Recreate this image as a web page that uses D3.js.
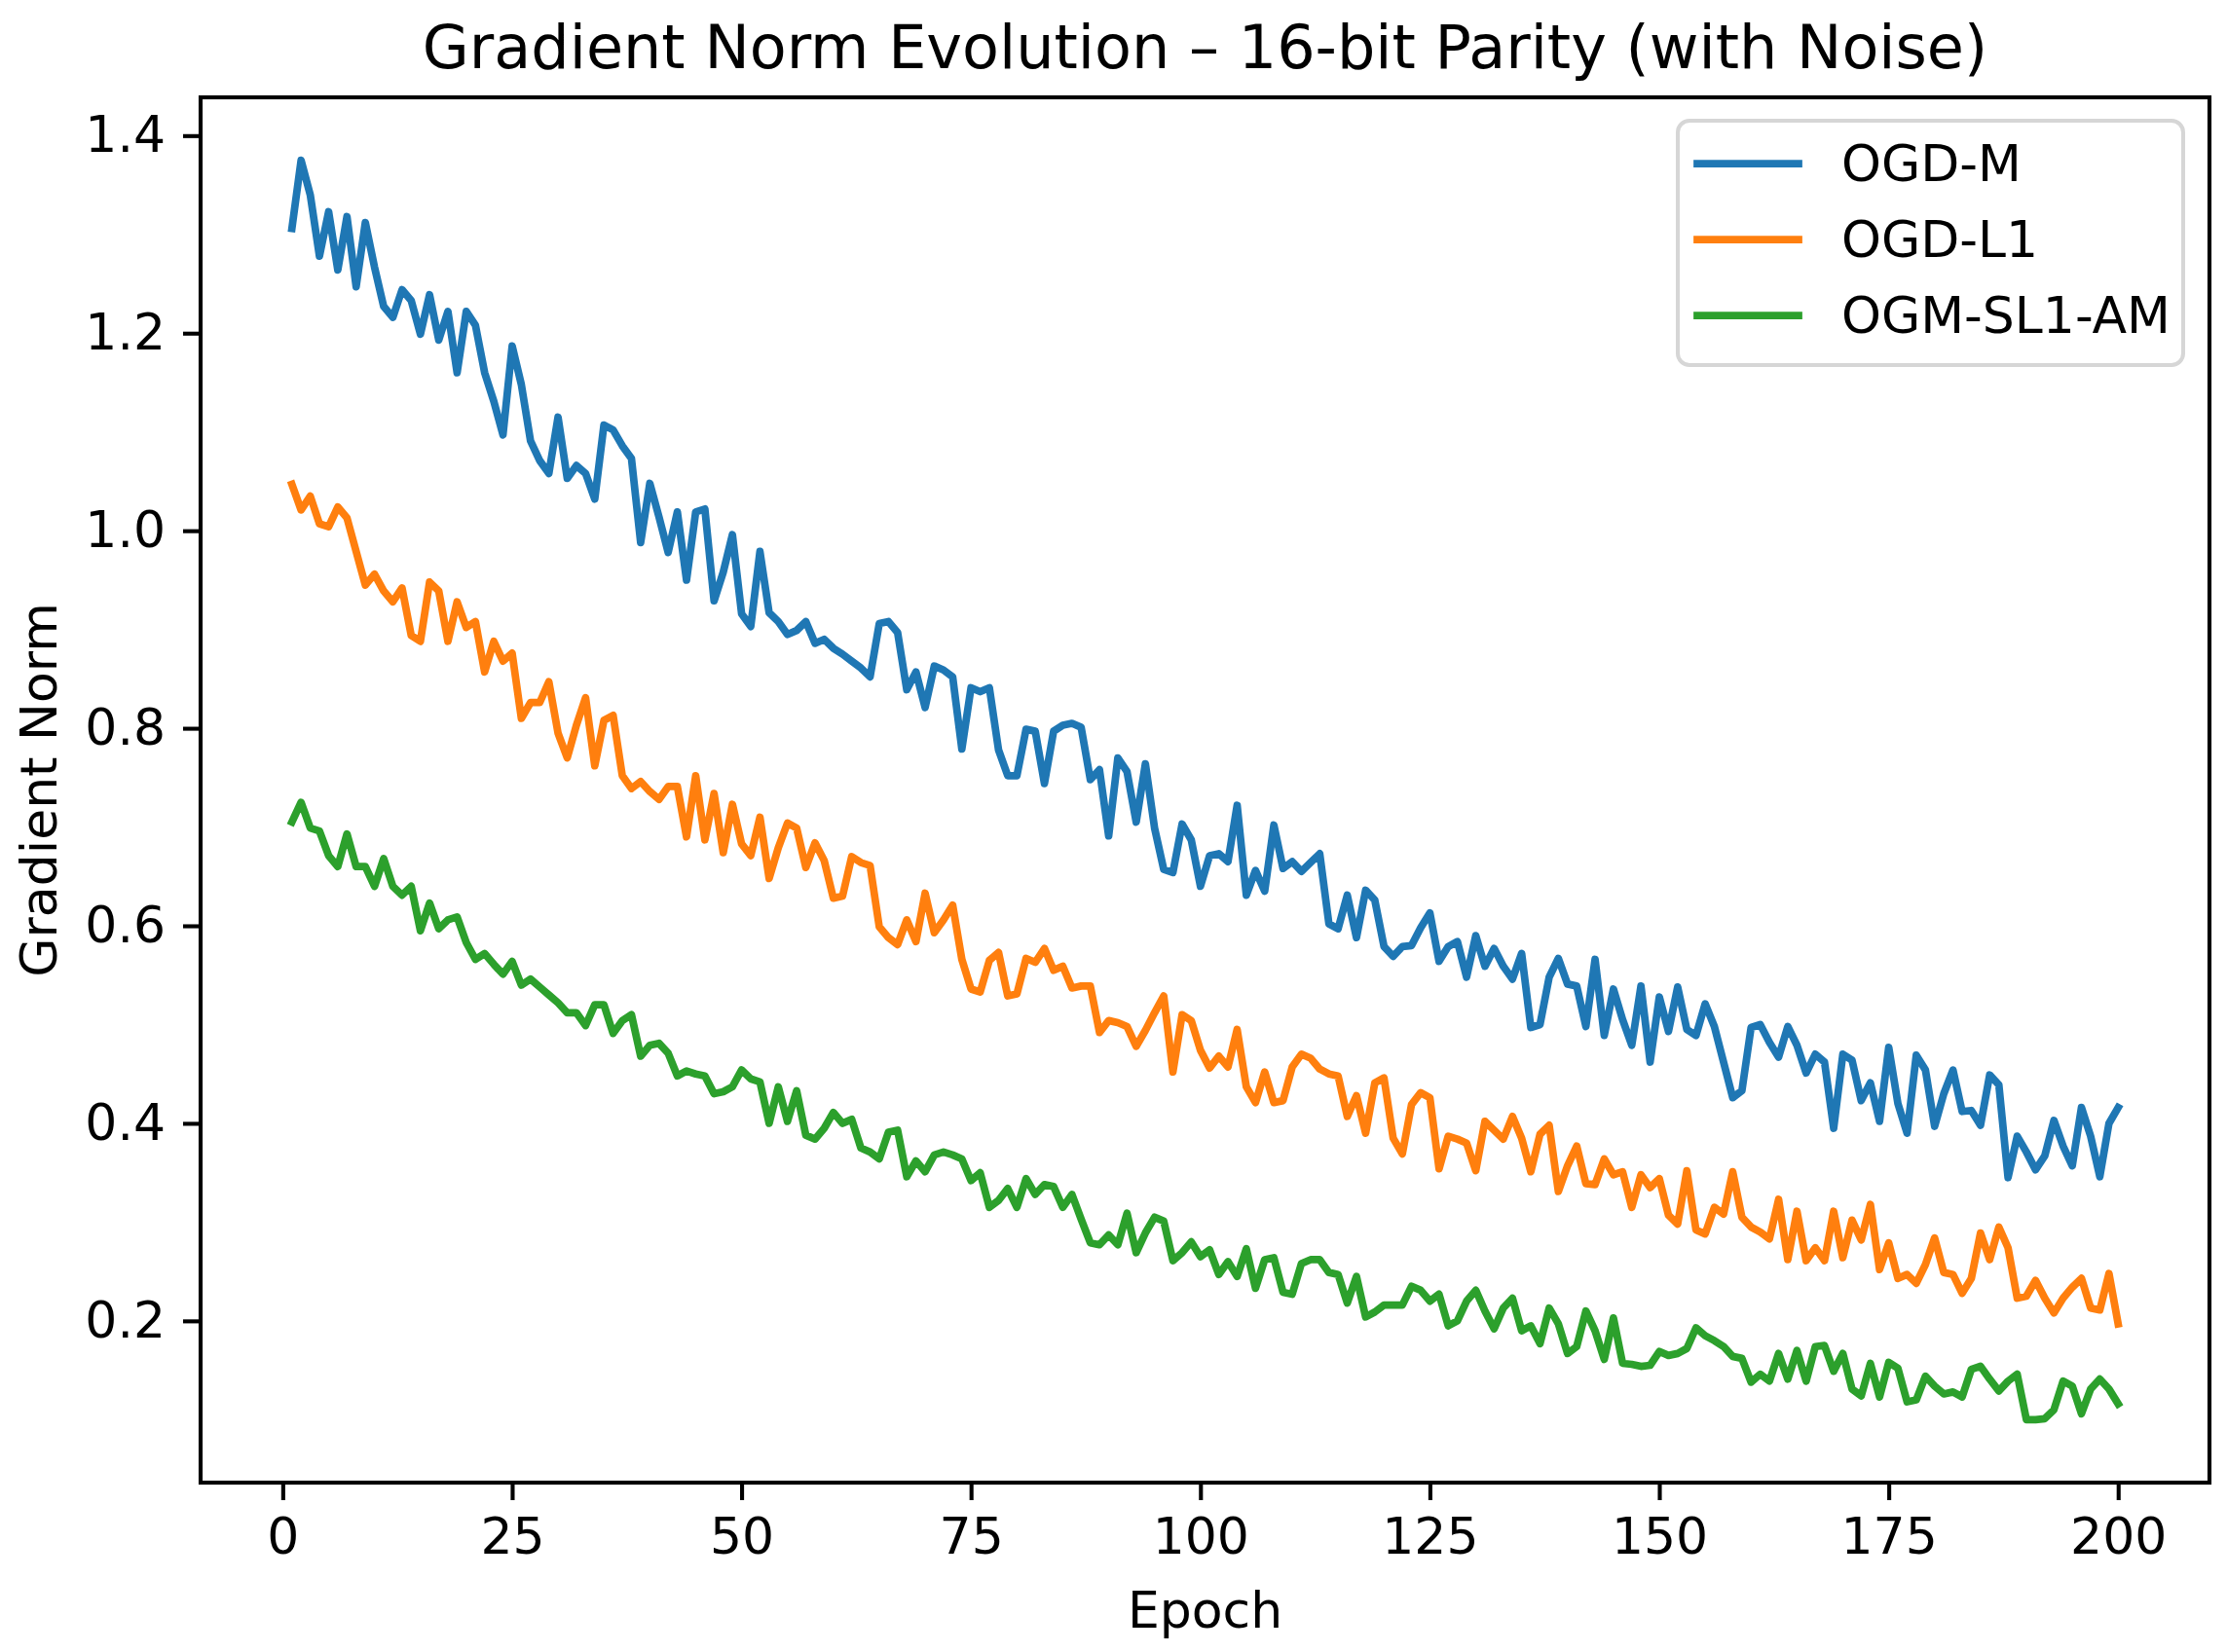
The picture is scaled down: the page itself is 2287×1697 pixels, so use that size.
<!DOCTYPE html>
<html>
<head>
<meta charset="utf-8">
<script src="https://cdn.jsdelivr.net/npm/d3@7"></script>
<style>
	body { margin: 0; background: #fff; }
	text { font-family: "DejaVu Sans", sans-serif; fill: #000; }
</style>
</head>
<body>
<div id="chart"></div>
<script>
// Data
const epochs = d3.range(1, 201);

const ogdM = [
	1.306, 1.375, 1.340, 1.278, 1.323, 1.264, 1.318, 1.247, 1.312, 1.267,
	1.227, 1.216, 1.244, 1.233, 1.199, 1.239, 1.193, 1.222, 1.160, 1.222,
	1.208, 1.160, 1.131, 1.097, 1.187, 1.148, 1.091, 1.071, 1.058, 1.115,
	1.053, 1.066, 1.058, 1.032, 1.107, 1.102, 1.086, 1.073, 0.988, 1.048,
	1.014, 0.978, 1.019, 0.950, 1.019, 1.022, 0.929, 0.958, 0.996, 0.916,
	0.903, 0.979, 0.917, 0.908, 0.895, 0.899, 0.908, 0.886, 0.890, 0.881,
	0.875, 0.868, 0.861, 0.852, 0.906, 0.908, 0.897, 0.839, 0.857, 0.821,
	0.863, 0.859, 0.852, 0.779, 0.841, 0.837, 0.841, 0.778, 0.752, 0.752,
	0.799, 0.797, 0.744, 0.797, 0.803, 0.805, 0.801, 0.748, 0.758, 0.691,
	0.770, 0.756, 0.705, 0.764, 0.699, 0.657, 0.654, 0.703, 0.687, 0.640,
	0.671, 0.673, 0.665, 0.722, 0.631, 0.656, 0.635, 0.702, 0.658, 0.665,
	0.655, 0.664, 0.673, 0.602, 0.597, 0.631, 0.588, 0.636, 0.626, 0.579,
	0.569, 0.579, 0.580, 0.598, 0.613, 0.564, 0.579, 0.584, 0.548, 0.590,
	0.559, 0.577, 0.559, 0.546, 0.572, 0.497, 0.500, 0.548, 0.567, 0.541,
	0.539, 0.498, 0.566, 0.489, 0.536, 0.505, 0.479, 0.539, 0.462, 0.528,
	0.493, 0.538, 0.495, 0.489, 0.521, 0.498, 0.462, 0.426, 0.433, 0.497,
	0.500, 0.482, 0.467, 0.498, 0.479, 0.451, 0.470, 0.462, 0.395, 0.470,
	0.464, 0.423, 0.441, 0.402, 0.477, 0.420, 0.390, 0.469, 0.454, 0.397,
	0.430, 0.454, 0.412, 0.413, 0.398, 0.449, 0.439, 0.345, 0.387, 0.371,
	0.353, 0.367, 0.403, 0.377, 0.357, 0.416, 0.387, 0.346, 0.400, 0.416,
];

const ogdL1 = [
	1.047, 1.021, 1.035, 1.007, 1.004, 1.024, 1.013, 0.979, 0.945, 0.956,
	0.939, 0.928, 0.942, 0.894, 0.888, 0.948, 0.939, 0.888, 0.928, 0.902,
	0.908, 0.857, 0.888, 0.868, 0.876, 0.810, 0.826, 0.826, 0.847, 0.795,
	0.770, 0.803, 0.831, 0.762, 0.808, 0.813, 0.752, 0.739, 0.746, 0.736,
	0.728, 0.741, 0.741, 0.690, 0.752, 0.687, 0.734, 0.674, 0.723, 0.683,
	0.671, 0.710, 0.648, 0.679, 0.704, 0.699, 0.659, 0.684, 0.666, 0.628,
	0.630, 0.670, 0.664, 0.661, 0.599, 0.588, 0.581, 0.606, 0.584, 0.633,
	0.593, 0.606, 0.621, 0.566, 0.536, 0.533, 0.565, 0.573, 0.529, 0.531,
	0.567, 0.563, 0.577, 0.555, 0.559, 0.537, 0.539, 0.539, 0.492, 0.504,
	0.502, 0.498, 0.478, 0.494, 0.512, 0.529, 0.452, 0.510, 0.504, 0.474,
	0.456, 0.468, 0.457, 0.495, 0.437, 0.421, 0.452, 0.421, 0.423, 0.457,
	0.470, 0.466, 0.455, 0.450, 0.448, 0.407, 0.428, 0.390, 0.441, 0.446,
	0.385, 0.369, 0.419, 0.431, 0.426, 0.354, 0.387, 0.384, 0.380, 0.352,
	0.402, 0.393, 0.384, 0.407, 0.385, 0.351, 0.389, 0.398, 0.331, 0.357,
	0.377, 0.339, 0.338, 0.364, 0.348, 0.351, 0.315, 0.348, 0.335, 0.344,
	0.307, 0.298, 0.352, 0.292, 0.288, 0.315, 0.308, 0.351, 0.305, 0.295,
	0.290, 0.283, 0.323, 0.262, 0.311, 0.261, 0.274, 0.261, 0.311, 0.264,
	0.302, 0.282, 0.318, 0.252, 0.279, 0.243, 0.247, 0.238, 0.257, 0.284,
	0.249, 0.247, 0.228, 0.243, 0.289, 0.262, 0.295, 0.274, 0.223, 0.225,
	0.241, 0.223, 0.208, 0.223, 0.234, 0.243, 0.213, 0.211, 0.248, 0.197,
];

const ogmSl1Am = [
	0.705, 0.725, 0.699, 0.696, 0.671, 0.660, 0.693, 0.660, 0.660, 0.640,
	0.668, 0.640, 0.631, 0.640, 0.595, 0.623, 0.597, 0.606, 0.609, 0.583,
	0.566, 0.572, 0.561, 0.551, 0.564, 0.540, 0.546, 0.538, 0.530, 0.522,
	0.512, 0.512, 0.499, 0.520, 0.520, 0.491, 0.504, 0.510, 0.468, 0.479,
	0.481, 0.471, 0.448, 0.453, 0.450, 0.448, 0.430, 0.432, 0.437, 0.454,
	0.445, 0.442, 0.400, 0.437, 0.402, 0.433, 0.388, 0.384, 0.395, 0.411,
	0.400, 0.404, 0.375, 0.371, 0.364, 0.391, 0.393, 0.346, 0.362, 0.351,
	0.368, 0.371, 0.368, 0.364, 0.342, 0.350, 0.315, 0.322, 0.334, 0.315,
	0.344, 0.328, 0.338, 0.336, 0.315, 0.328, 0.303, 0.279, 0.277, 0.287,
	0.277, 0.309, 0.269, 0.289, 0.305, 0.301, 0.261, 0.269, 0.280, 0.265,
	0.272, 0.247, 0.260, 0.245, 0.273, 0.233, 0.262, 0.264, 0.229, 0.227,
	0.258, 0.262, 0.262, 0.249, 0.247, 0.218, 0.245, 0.204, 0.209, 0.216,
	0.216, 0.216, 0.235, 0.231, 0.220, 0.227, 0.195, 0.200, 0.220, 0.231,
	0.210, 0.192, 0.213, 0.223, 0.190, 0.195, 0.177, 0.213, 0.197, 0.167,
	0.174, 0.210, 0.190, 0.161, 0.203, 0.157, 0.156, 0.154, 0.155, 0.169,
	0.165, 0.167, 0.172, 0.193, 0.185, 0.180, 0.174, 0.164, 0.162, 0.138,
	0.146, 0.139, 0.167, 0.141, 0.170, 0.139, 0.174, 0.175, 0.149, 0.167,
	0.131, 0.124, 0.157, 0.123, 0.158, 0.152, 0.118, 0.120, 0.144, 0.134,
	0.126, 0.128, 0.123, 0.151, 0.154, 0.141, 0.129, 0.139, 0.146, 0.100,
	0.100, 0.101, 0.110, 0.139, 0.134, 0.106, 0.131, 0.141, 0.131, 0.116,
];

const seriesNames = ["OGD-M", "OGD-L1", "OGM-SL1-AM"];
const seriesColors = ["#1f77b4", "#ff7f0e", "#2ca02c"];
const xTicks = [0, 25, 50, 75, 100, 125, 150, 175, 200];
const yTicks = [0.2, 0.4, 0.6, 0.8, 1.0, 1.2, 1.4];

const series = [ogdM, ogdL1, ogmSl1Am].map((values, i) => ({
	name: seriesNames[i],
	color: seriesColors[i],
	points: values.map((v, j) => ({ epoch: epochs[j], value: v })),
}));

// Figure geometry (matplotlib-like, 10pt ~ 52px)
const W = 2287;
const H = 1697;
const margin = { top: 100, right: 18, bottom: 174, left: 206 };
const width = W - margin.left - margin.right;
const height = H - margin.top - margin.bottom;

const svg = d3
	.select("#chart")
	.append("svg")
	.attr("width", W)
	.attr("height", H)
	.attr("viewBox", `0 0 ${W} ${H}`);

const g = svg
	.append("g")
	.attr("transform", `translate(${margin.left},${margin.top})`);

// Scales with 5% padding like matplotlib autoscale
const xExt = d3.extent(epochs);
const xPad = (xExt[1] - xExt[0]) * 0.05;
const xScale = d3
	.scaleLinear()
	.domain([xExt[0] - xPad, xExt[1] + xPad])
	.range([0, width]);

const allValues = ogdM.concat(ogdL1, ogmSl1Am);
const yExt = d3.extent(allValues);
const yPad = (yExt[1] - yExt[0]) * 0.05;
const yScale = d3
	.scaleLinear()
	.domain([yExt[0] - yPad, yExt[1] + yPad])
	.range([height, 0]);

// Lines
const line = d3
	.line()
	.x((d) => xScale(d.epoch))
	.y((d) => yScale(d.value));

g.selectAll(".series")
	.data(series)
	.enter()
	.append("path")
	.attr("class", "series")
	.attr("d", (d) => line(d.points))
	.attr("fill", "none")
	.attr("stroke", (d) => d.color)
	.attr("stroke-width", 7.75)
	.attr("stroke-linejoin", "round")
	.attr("stroke-linecap", "square");

// Axes
const xAxis = g
	.append("g")
	.attr("transform", `translate(0,${height})`)
	.call(
		d3.axisBottom(xScale).tickValues(xTicks).tickSize(18).tickPadding(18)
	);

const yAxis = g
	.append("g")
	.call(
		d3
			.axisLeft(yScale)
			.tickValues(yTicks)
			.tickFormat(d3.format(".1f"))
			.tickSize(18)
			.tickPadding(18)
	);

[xAxis, yAxis].forEach((ax) => {
	ax.select(".domain").remove();
	ax.selectAll(".tick line").attr("stroke", "#000").attr("stroke-width", 4.1);
	ax.selectAll(".tick text")
		.attr("fill", "#000")
		.style("font-family", "DejaVu Sans")
		.style("font-size", "52px");
});

// Frame
g.append("rect")
	.attr("width", width)
	.attr("height", height)
	.attr("fill", "none")
	.attr("stroke", "#000")
	.attr("stroke-width", 4.1);

// Title and labels
svg.append("text")
	.attr("x", margin.left + width / 2)
	.attr("y", 70)
	.attr("text-anchor", "middle")
	.style("font-size", "62px")
	.text("Gradient Norm Evolution \u2013 16-bit Parity (with Noise)");

svg.append("text")
	.attr("x", margin.left + width / 2)
	.attr("y", 1672)
	.attr("text-anchor", "middle")
	.style("font-size", "52px")
	.text("Epoch");

svg.append("text")
	.attr("transform", `translate(58,${margin.top + height / 2}) rotate(-90)`)
	.attr("text-anchor", "middle")
	.style("font-size", "52px")
	.text("Gradient Norm");

// Legend
const legend = svg.append("g").attr("transform", "translate(1723,124)");

legend
	.append("rect")
	.attr("width", 519)
	.attr("height", 251)
	.attr("rx", 12)
	.attr("fill", "rgba(255,255,255,0.8)")
	.attr("stroke", "#d6d6d6")
	.attr("stroke-width", 4);

const items = legend
	.selectAll(".legend-item")
	.data(series)
	.enter()
	.append("g")
	.attr("class", "legend-item")
	.attr("transform", (d, i) => `translate(0,${44 + i * 78})`);

items
	.append("line")
	.attr("x1", 20)
	.attr("x2", 124)
	.attr("stroke", (d) => d.color)
	.attr("stroke-width", 7.75)
	.attr("stroke-linecap", "square");

items
	.append("text")
	.attr("x", 168)
	.attr("y", 18)
	.style("font-size", "52px")
	.text((d) => d.name);
</script>
</body>
</html>
